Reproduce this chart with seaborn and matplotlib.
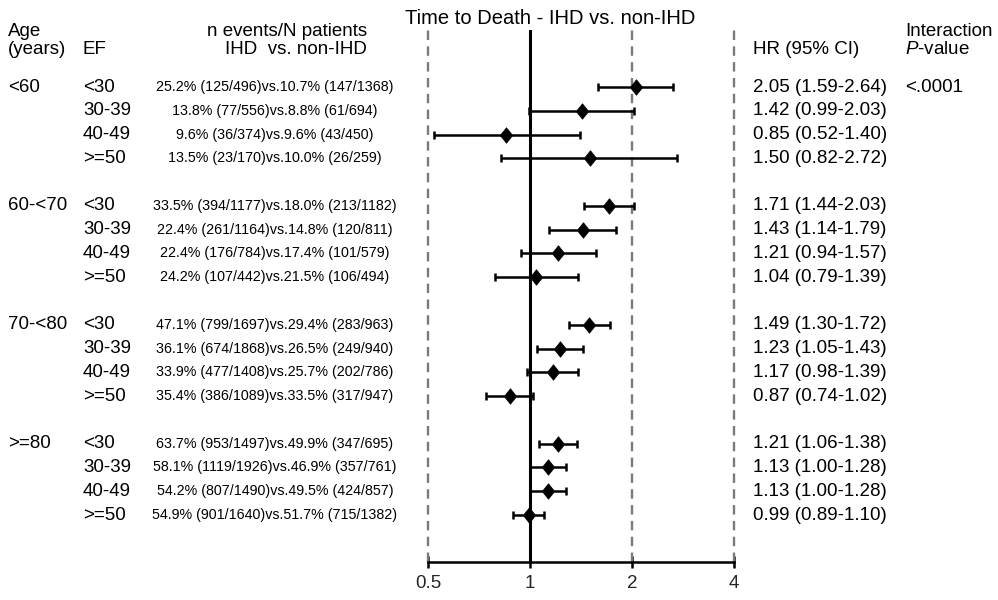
import numpy as np
import pandas as pd
import matplotlib
matplotlib.use("Agg")
import matplotlib.pyplot as plt
import seaborn as sns

# ---------------- data ----------------
age_groups = ["<60", "60-<70", "70-<80", ">=80"]
ef_groups = ["<30", "30-39", "40-49", ">=50"]
hr = [2.05, 1.42, 0.85, 1.50,
      1.71, 1.43, 1.21, 1.04,
      1.49, 1.23, 1.17, 0.87,
      1.21, 1.13, 1.13, 0.99]
ci_lo = [1.59, 0.99, 0.52, 0.82,
         1.44, 1.14, 0.94, 0.79,
         1.30, 1.05, 0.98, 0.74,
         1.06, 1.00, 1.00, 0.89]
ci_hi = [2.64, 2.03, 1.40, 2.72,
         2.03, 1.79, 1.57, 1.39,
         1.72, 1.43, 1.39, 1.02,
         1.38, 1.28, 1.28, 1.10]
events_text = [
    "25.2% (125/496)vs.10.7% (147/1368)",
    "13.8% (77/556)vs.8.8% (61/694)",
    "9.6% (36/374)vs.9.6% (43/450)",
    "13.5% (23/170)vs.10.0% (26/259)",
    "33.5% (394/1177)vs.18.0% (213/1182)",
    "22.4% (261/1164)vs.14.8% (120/811)",
    "22.4% (176/784)vs.17.4% (101/579)",
    "24.2% (107/442)vs.21.5% (106/494)",
    "47.1% (799/1697)vs.29.4% (283/963)",
    "36.1% (674/1868)vs.26.5% (249/940)",
    "33.9% (477/1408)vs.25.7% (202/786)",
    "35.4% (386/1089)vs.33.5% (317/947)",
    "63.7% (953/1497)vs.49.9% (347/695)",
    "58.1% (1119/1926)vs.46.9% (357/761)",
    "54.2% (807/1490)vs.49.5% (424/857)",
    "54.9% (901/1640)vs.51.7% (715/1382)",
]
p_interaction = "<.0001"
x_ticks = [0.5, 1, 2, 4]
x_ticklabels = ["0.5", "1", "2", "4"]
title = "Time to Death - IHD vs. non-IHD"

# ---------------- build table ----------------
rows = []
for gi, ag in enumerate(age_groups):
    for ei, ef in enumerate(ef_groups):
        k = gi * 4 + ei
        rows.append(dict(age=ag, ef=ef, hr=hr[k], lo=ci_lo[k], hi=ci_hi[k],
                         txt=events_text[k], ypos=gi * 5 + ei,
                         first=(ei == 0)))
df = pd.DataFrame(rows)

sns.set_theme(style="white")
plt.rcParams["font.family"] = ["Liberation Sans", "DejaVu Sans"]
plt.rcParams["mathtext.fontset"] = "custom"
plt.rcParams["mathtext.it"] = "Liberation Sans:italic"
plt.rcParams["mathtext.rm"] = "Liberation Sans"

W, H = 998, 600
fig = plt.figure(figsize=(W / 100, H / 100), dpi=100)

# axes placement in pixels
x0, x1 = 428, 734
y_top, y_bot = 30, 562
row0_px, row_step = 87, 23.78
ax = fig.add_axes([x0 / W, 1 - y_bot / H, (x1 - x0) / W, (y_bot - y_top) / H])
ax.set_xscale("log", base=2)
ax.set_xlim(0.5, 4)
ax.set_ylim((y_bot - row0_px) / row_step, (y_top - row0_px) / row_step)

# reference lines
for xv in [0.5, 2, 4]:
    ax.axvline(xv, color="#7a7a7a", lw=1.7, dashes=(4.0, 2.7), zorder=1,
               clip_on=False)
ax.axvline(1, color="black", lw=2.2, zorder=2)

# CI lines with caps
ax.errorbar(df["hr"], df["ypos"],
            xerr=[df["hr"] - df["lo"], df["hi"] - df["hr"]],
            fmt="none", ecolor="black", elinewidth=1.8, capsize=2.6,
            capthick=1.8, zorder=3)

diamond = [(-0.4, 0.0), (0.0, 0.5), (0.4, 0.0), (0.0, -0.5), (-0.4, 0.0)]
sns.scatterplot(data=df, x="hr", y="ypos", marker=diamond, s=125,
                color="black", edgecolor="black", linewidth=0.5,
                ax=ax, zorder=4, legend=False)

# axis styling
for s in ["top", "left", "right"]:
    ax.spines[s].set_visible(False)
ax.spines["bottom"].set_linewidth(1.8)
ax.spines["bottom"].set_color("black")
ax.set_xticks(x_ticks)
ax.set_xticklabels(x_ticklabels)
ax.xaxis.set_minor_locator(matplotlib.ticker.NullLocator())
ax.tick_params(axis="x", direction="inout", length=9, width=1.8,
               color="black", labelsize=13.5, pad=5, bottom=True)
ax.set_yticks([])
ax.set_xlabel("")
ax.set_ylabel("")
ax.set_facecolor("none")
ax.grid(False)

# ---------------- text ----------------
def ftext(x, y, s, **kw):
    kw.setdefault("va", "center")
    kw.setdefault("fontsize", 13.5)
    fig.text(x / W, 1 - y / H, s, color="black", **kw)

ftext(550, 18, title, ha="center", fontsize=14.5)
ftext(8, 31, "Age", ha="left")
ftext(8, 49, "(years)", ha="left")
ftext(83, 49, "EF", ha="left")
ftext(367, 31, "n events/N patients", ha="right")
ftext(367, 49, "IHD  vs. non-IHD", ha="right")
ftext(753, 49, "HR (95% CI)", ha="left")
ftext(905, 32, "Interaction", ha="left")
ftext(905, 50, r"$\it{P}$-value", ha="left")

for _, r in df.iterrows():
    ypx = row0_px + r["ypos"] * row_step
    if r["first"]:
        ftext(8, ypx, r["age"], ha="left")
    ftext(83, ypx, r["ef"], ha="left")
    ftext(275, ypx, r["txt"], ha="center", fontsize=10.3)
    ftext(753, ypx, f"{r['hr']:.2f} ({r['lo']:.2f}-{r['hi']:.2f})", ha="left")
ftext(905, row0_px, p_interaction, ha="left")

fig.savefig("out.png", dpi=100, facecolor="white")
